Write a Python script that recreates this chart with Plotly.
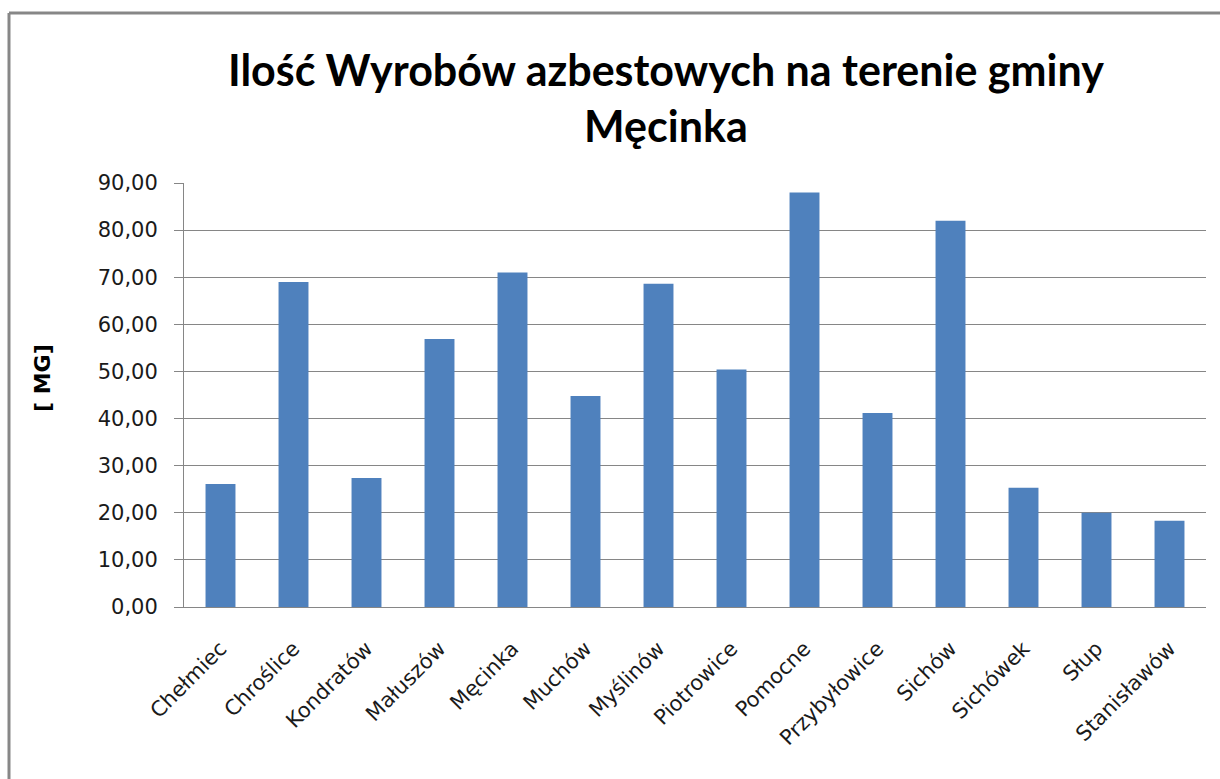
import plotly.graph_objects as go

categories = ["Chełmiec", "Chroślice", "Kondratów", "Małuszów", "Męcinka", "Muchów",
              "Myślinów", "Piotrowice", "Pomocne", "Przybyłowice", "Sichów",
              "Sichówek", "Słup", "Stanisławów"]
values = [26.1, 69.0, 27.4, 56.9, 71.0, 44.8, 68.6, 50.4, 88.0, 41.2, 82.0, 25.3, 20.0, 18.3]
tick_vals = [0, 10, 20, 30, 40, 50, 60, 70, 80, 90]
tick_text = ["0,00", "10,00", "20,00", "30,00", "40,00", "50,00", "60,00", "70,00", "80,00", "90,00"]
title_text = "Ilość Wyrobów azbestowych na terenie gminy<br>Męcinka"
y_title = "[ MG]"

W, H = 1220, 779
PLOT_X0, PLOT_X1, PLOT_Y0, PLOT_Y1 = 184, 1206, 183, 607  # pixel coords of the plot area
L, R, T, B = PLOT_X0, W - PLOT_X1, PLOT_Y0, H - PLOT_Y1
pw, ph = W - L - R, H - T - B

def px_x(x):
    return (x - PLOT_X0) / pw

def px_y(y):
    return (PLOT_Y1 - y) / ph

fig = go.Figure(go.Bar(x=categories, y=values, marker=dict(color="#4F81BD", line=dict(width=0))))

fig.update_layout(
    width=W, height=H,
    margin=dict(l=L, r=R, t=T, b=B, autoexpand=False),
    paper_bgcolor="white", plot_bgcolor="white",
    bargap=0.59,
    showlegend=False,
    font=dict(family="DejaVu Sans", color="#1a1a1a"),
)
fig.update_xaxes(
    type="category", tickangle=-45, tickfont=dict(size=21, family="DejaVu Sans", color="#1a1a1a"),
    showline=True, linecolor="#868686", linewidth=1, ticks="", showgrid=False,
    ticklabelstandoff=20,
)
fig.update_yaxes(
    range=[0, 90], tickvals=tick_vals, ticktext=tick_text,
    tickfont=dict(size=21, family="DejaVu Sans", color="#1a1a1a"),
    showgrid=True, gridcolor="#868686", gridwidth=1,
    showline=True, linecolor="#868686", linewidth=1,
    ticks="outside", ticklen=9, tickcolor="#868686", ticklabelstandoff=12,
    zeroline=False,
)

fig.add_annotation(text=title_text, xref="paper", yref="paper",
                   x=px_x(666), y=px_y(97), xanchor="center", yanchor="middle",
                   showarrow=False, font=dict(size=43, family="Lato", color="#000000", weight="bold"))
fig.add_annotation(text=y_title, xref="paper", yref="paper",
                   x=px_x(42), y=px_y(378), xanchor="center", yanchor="middle", textangle=-90,
                   showarrow=False, font=dict(size=22, family="DejaVu Sans", color="#000000", weight="bold"))

# chart outer border (top and left visible)
fig.add_shape(type="line", xref="paper", yref="paper", x0=px_x(9), x1=px_x(W + 10), y0=px_y(13), y1=px_y(13),
              line=dict(color="#878787", width=3), layer="above")
fig.add_shape(type="line", xref="paper", yref="paper", x0=px_x(9), x1=px_x(9), y0=px_y(13), y1=px_y(H + 10),
              line=dict(color="#878787", width=3), layer="above")

fig.write_html(
    "out.html",
    config={"displayModeBar": False},
    post_script="document.body.style.margin='0';document.body.style.overflow='hidden';",
)
